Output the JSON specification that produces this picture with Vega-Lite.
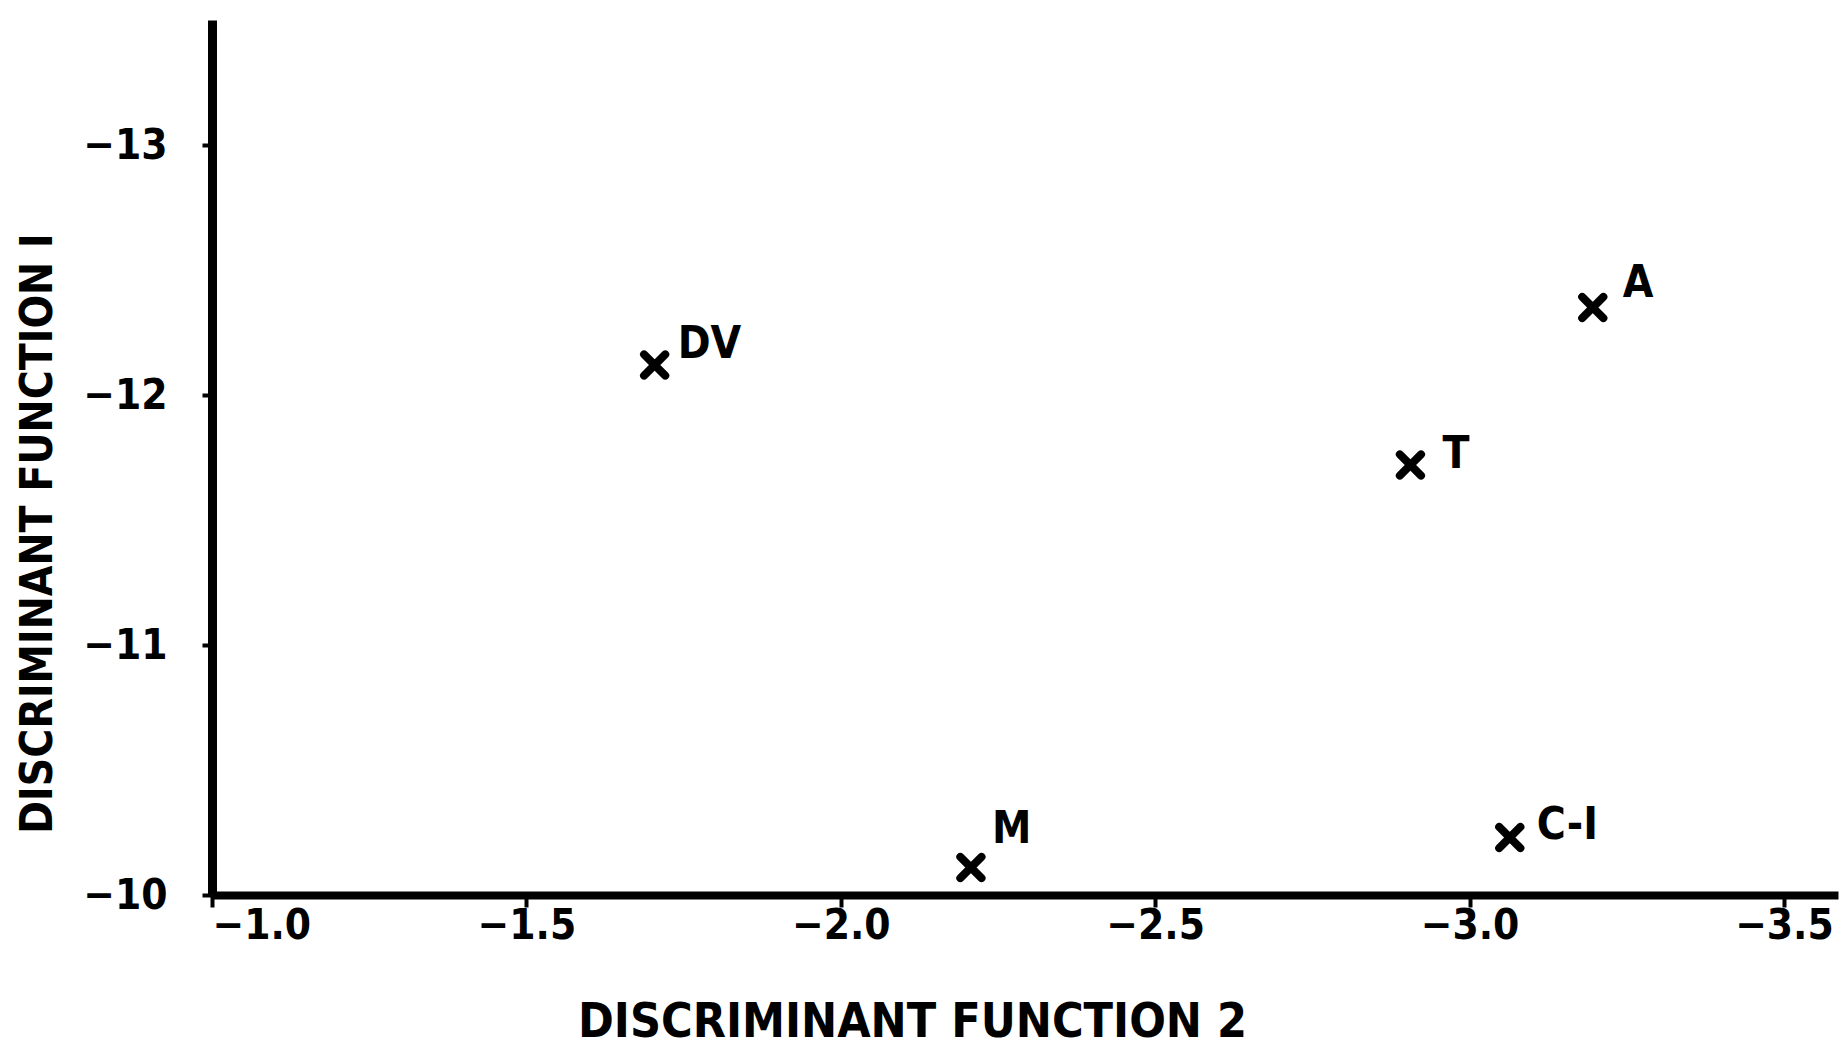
{
  "$schema": "https://vega.github.io/schema/vega-lite/v6.json",
  "width": 1626,
  "height": 875,
  "autosize": {"type": "none"},
  "padding": {"left": 212, "top": 20, "right": 9, "bottom": 158},
  "background": "white",
  "config": {
    "view": {"stroke": null},
    "font": "DejaVu Sans Condensed, Liberation Sans, sans-serif",
    "axis": {"grid": false, "domainColor": "black", "tickColor": "black", "labelColor": "black", "titleColor": "black", "labelFont": "DejaVu Sans Condensed, Liberation Sans, sans-serif", "titleFont": "DejaVu Sans Condensed, Liberation Sans, sans-serif", "labelFontWeight": "bold", "titleFontWeight": "bold"}
  },
  "data": {
    "values": [
      {"group": "DV", "f2": -1.704, "f1": -12.12},
      {"group": "A", "f2": -3.196, "f1": -12.35},
      {"group": "T", "f2": -2.906, "f1": -11.72},
      {"group": "M", "f2": -2.207, "f1": -10.11},
      {"group": "C-I", "f2": -3.064, "f1": -10.23}
    ]
  },
  "encoding": {
    "x": {
      "field": "f2", "type": "quantitative",
      "scale": {"domain": [-1.0, -3.586], "nice": false, "zero": false},
      "axis": {
        "values": [-1.0, -1.5, -2.0, -2.5, -3.0, -3.5],
        "format": ".1f",
        "domainWidth": 8, "tickWidth": 4, "tickSize": 12,
        "labelPadding": -2, "labelFontSize": 42, "labelBaseline": "top",
        "title": "DISCRIMINANT  FUNCTION  2",
        "titleFontSize": 48, "titleX": 700, "titleY": 127, "titleBaseline": "middle", "titleAnchor": "middle"
      }
    },
    "y": {
      "field": "f1", "type": "quantitative",
      "scale": {"domain": [-10, -13.5], "nice": false, "zero": false},
      "axis": {
        "values": [-10, -11, -12, -13],
        "format": "d",
        "domainWidth": 9, "tickWidth": 4, "tickSize": 10,
        "labelPadding": 35, "labelFontSize": 42, "labelBaseline": "middle",
        "title": "DISCRIMINANT  FUNCTION  I",
        "titleFontSize": 44, "titleX": -174, "titleY": 513, "titleBaseline": "middle", "titleAnchor": "middle", "titleAngle": -90
      }
    }
  },
  "layer": [
    {
      "mark": {"type": "point", "shape": "M-1,-1L1,1M-1,1L1,-1", "size": 450, "stroke": "black", "strokeWidth": 8, "strokeCap": "round", "filled": false, "opacity": 1}
    },
    {
      "transform": [{"filter": "datum.group == 'DV'"}],
      "mark": {"type": "text", "align": "left", "baseline": "middle", "dx": 23, "dy": -20, "fontSize": 44, "fontWeight": "bold", "color": "black"},
      "encoding": {"text": {"field": "group"}}
    },
    {
      "transform": [{"filter": "datum.group == 'A'"}],
      "mark": {"type": "text", "align": "left", "baseline": "middle", "dx": 30, "dy": -24, "fontSize": 44, "fontWeight": "bold", "color": "black"},
      "encoding": {"text": {"field": "group"}}
    },
    {
      "transform": [{"filter": "datum.group == 'T'"}],
      "mark": {"type": "text", "align": "left", "baseline": "middle", "dx": 32, "dy": -10, "fontSize": 44, "fontWeight": "bold", "color": "black"},
      "encoding": {"text": {"field": "group"}}
    },
    {
      "transform": [{"filter": "datum.group == 'M'"}],
      "mark": {"type": "text", "align": "left", "baseline": "middle", "dx": 21, "dy": -38, "fontSize": 44, "fontWeight": "bold", "color": "black"},
      "encoding": {"text": {"field": "group"}}
    },
    {
      "transform": [{"filter": "datum.group == 'C-I'"}],
      "mark": {"type": "text", "align": "left", "baseline": "middle", "dx": 27, "dy": -12, "fontSize": 44, "fontWeight": "bold", "color": "black"},
      "encoding": {"text": {"field": "group"}}
    }
  ]
}
